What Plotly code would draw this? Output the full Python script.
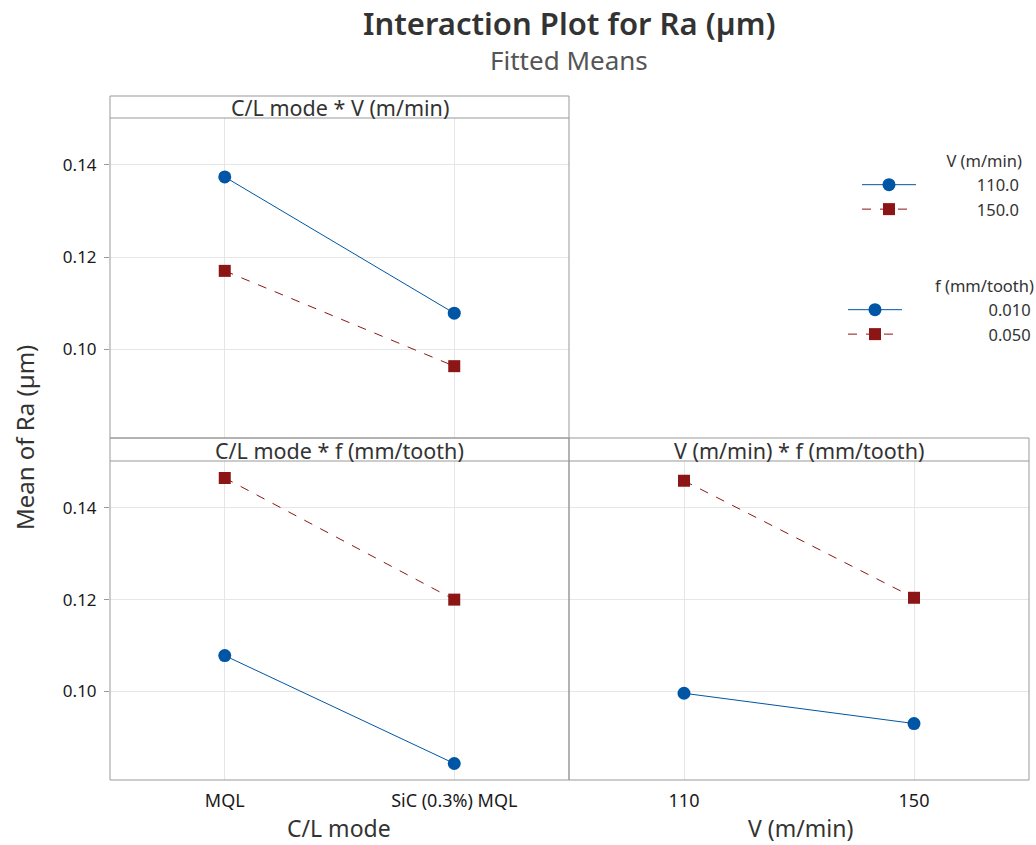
import plotly.graph_objects as go

# ---- data ----
cl_modes = ["MQL", "SiC (0.3%) MQL"]
v_levels = [110, 150]
v_tick_labels = ["110", "150"]

# C/L mode * V
clv_v110 = [0.1374, 0.1078]
clv_v150 = [0.1170, 0.0963]
# C/L mode * f
clf_f010 = [0.1078, 0.0843]
clf_f050 = [0.1465, 0.1200]
# V * f
vf_f010 = [0.0996, 0.0930]
vf_f050 = [0.1459, 0.1204]

y_ticks = [0.10, 0.12, 0.14]
y_tick_labels = ["0.10", "0.12", "0.14"]

v_legend_names = ["110.0", "150.0"]
f_legend_names = ["0.010", "0.050"]

BLUE = "#0055A5"
RED = "#8C1515"
FONT = "Noto Sans"
W, H = 1036, 845

def px(x):
    return x / W

def py(y):
    return 1 - y / H

NB = "\u00a0"
pad1 = NB * 13
pad2 = NB * 19

fig = go.Figure()

blue_style = dict(mode="lines+markers", line=dict(color=BLUE, width=1),
                  marker=dict(symbol="circle", size=13, color=BLUE))
red_style = dict(mode="lines+markers", line=dict(color=RED, width=1, dash="dash"),
                 marker=dict(symbol="square", size=12, color=RED))

fig.add_trace(go.Scatter(x=cl_modes, y=clv_v110, name=pad1 + v_legend_names[0],
                         xaxis="x", yaxis="y", legend="legend", **blue_style))
fig.add_trace(go.Scatter(x=cl_modes, y=clv_v150, name=pad1 + v_legend_names[1],
                         xaxis="x", yaxis="y", legend="legend", **red_style))
fig.add_trace(go.Scatter(x=cl_modes, y=clf_f010, name=pad2 + f_legend_names[0],
                         xaxis="x2", yaxis="y2", legend="legend2", **blue_style))
fig.add_trace(go.Scatter(x=cl_modes, y=clf_f050, name=pad2 + f_legend_names[1],
                         xaxis="x2", yaxis="y2", legend="legend2", **red_style))
fig.add_trace(go.Scatter(x=v_levels, y=vf_f010, name=f_legend_names[0], xaxis="x3", yaxis="y3",
                         showlegend=False, **blue_style))
fig.add_trace(go.Scatter(x=v_levels, y=vf_f050, name=f_legend_names[1], xaxis="x3", yaxis="y3",
                         showlegend=False, **red_style))

L0, L1, R1 = 110, 569, 1029
T_hdr, T_top, T_bot = 96, 118, 438
B_hdr, B_top, B_bot = 438, 461, 780

grid = "#E6E6E6"
yrange = [0.0807, 0.1502]
ytickfont = dict(family=FONT, size=17, color="#1a1a1a")
xtickfont = dict(family=FONT, size=18, color="#1a1a1a")
ax_common = dict(showgrid=True, gridcolor=grid, gridwidth=1, zeroline=False,
                 showline=False)

leg_font = dict(family=FONT, size=16.5, color="#333")

fig.update_layout(
    width=W, height=H,
    margin=dict(l=0, r=0, t=0, b=0),
    paper_bgcolor="white", plot_bgcolor="white",
    font=dict(family=FONT, color="#333"),
    xaxis=dict(domain=[px(L0), px(L1)], anchor="y", type="category",
               range=[-0.5, 1.5], showticklabels=False, ticks="", **ax_common),
    yaxis=dict(domain=[py(T_bot), py(T_top)], anchor="x", range=yrange,
               tickvals=y_ticks, ticktext=y_tick_labels, ticks="outside", tickfont=ytickfont,
               ticklen=5, tickcolor="#999", ticklabelstandoff=4, **ax_common),
    xaxis2=dict(domain=[px(L0), px(L1)], anchor="y2", type="category", tickfont=xtickfont,
                range=[-0.5, 1.5], ticks="", ticklabelstandoff=8, **ax_common),
    yaxis2=dict(domain=[py(B_bot), py(B_top)], anchor="x2", range=yrange,
                tickvals=y_ticks, ticktext=y_tick_labels, ticks="outside", tickfont=ytickfont,
                ticklen=5, tickcolor="#999", ticklabelstandoff=4, **ax_common),
    xaxis3=dict(domain=[px(L1), px(R1)], anchor="y3", range=[90, 170], tickfont=xtickfont,
                tickvals=v_levels, ticktext=v_tick_labels, ticks="",
                ticklabelstandoff=8, **ax_common),
    yaxis3=dict(domain=[py(B_bot), py(B_top)], anchor="x3", range=yrange,
                tickvals=y_ticks, showticklabels=False, ticks="", **ax_common),
    legend=dict(x=px(1024), y=py(146), xanchor="right", yanchor="top",
                bgcolor="rgba(0,0,0,0)", tracegroupgap=0, itemwidth=54,
                font=leg_font,
                title=dict(text="V (m/min)", side="top right", font=leg_font)),
    legend2=dict(x=px(1036), y=py(271), xanchor="right", yanchor="top",
                 bgcolor="rgba(0,0,0,0)", tracegroupgap=0, itemwidth=54,
                 font=leg_font,
                 title=dict(text="f (mm/tooth)", side="top right", font=leg_font)),
)

border = dict(color="#999999", width=1)
shapes = []
shapes.append(dict(type="rect", xref="paper", yref="paper", x0=px(L0), x1=px(L1),
                   y0=py(T_bot), y1=py(T_hdr), line=border))
shapes.append(dict(type="line", xref="paper", yref="paper", x0=px(L0), x1=px(L1),
                   y0=py(T_top), y1=py(T_top), line=border))
for a, b in [(L0, L1), (L1, R1)]:
    shapes.append(dict(type="rect", xref="paper", yref="paper", x0=px(a), x1=px(b),
                       y0=py(B_bot), y1=py(B_hdr), line=border))
    shapes.append(dict(type="line", xref="paper", yref="paper", x0=px(a), x1=px(b),
                       y0=py(B_top), y1=py(B_top), line=border))
fig.update_layout(shapes=shapes)

ann = []
hdr_font = dict(family=FONT, size=21.5, color="#333")

def add_text(text, x, y, font, **kw):
    ann.append(dict(text=text, x=px(x), y=py(y), xref="paper", yref="paper",
                    showarrow=False, xanchor="center", yanchor="middle", font=font, **kw))

add_text("C/L mode * V (m/min)", (L0 + L1) / 2, (T_hdr + T_top) / 2 + 1, hdr_font)
add_text("C/L mode * f (mm/tooth)", (L0 + L1) / 2, (B_hdr + B_top) / 2 + 1, hdr_font)
add_text("V (m/min) * f (mm/tooth)", (L1 + R1) / 2, (B_hdr + B_top) / 2 + 1, hdr_font)
add_text("Interaction Plot for Ra (µm)", 569, 23,
         dict(family=FONT, size=31, color="#333", weight=600))
add_text("Fitted Means", 569, 60, dict(family=FONT, size=26, color="#555"))
add_text("Mean of Ra (µm)", 25, 438, dict(family=FONT, size=24, color="#333"), textangle=-90)
add_text("C/L mode", 339, 828, dict(family=FONT, size=23, color="#333"))
add_text("V (m/min)", 800, 828, dict(family=FONT, size=23, color="#333"))
fig.update_layout(annotations=ann)

fig.write_html("out.html", config={"displayModeBar": False},
               post_script="document.body.style.margin='0px';")
